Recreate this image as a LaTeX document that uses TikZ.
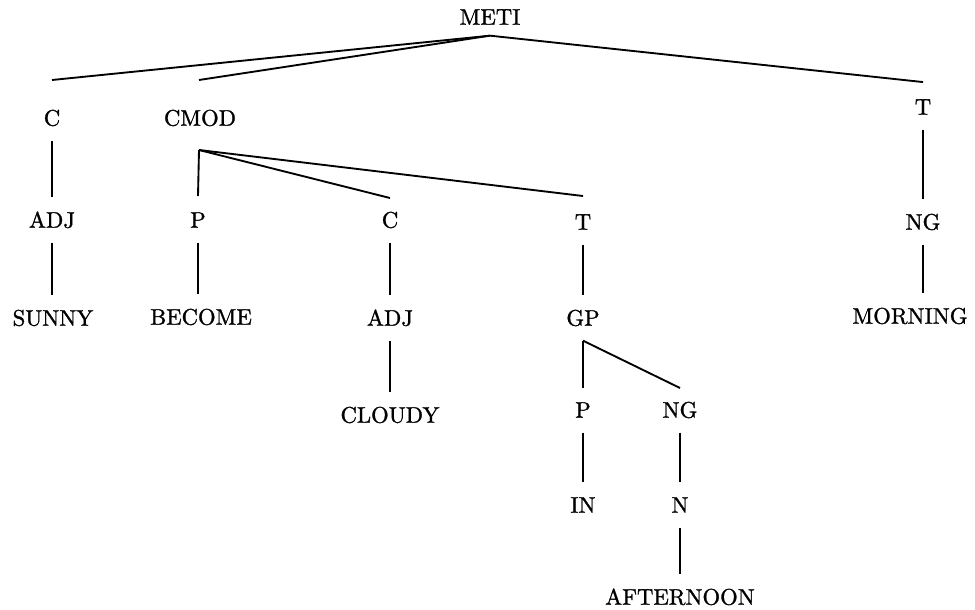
\documentclass[tikz,border=0pt]{standalone}
\usepackage{fontspec}
\newfontfamily\treefont[Extension=.otf, FakeBold=1.2]{lmroman10-regular}
\usetikzlibrary{positioning}
\tikzset{
  x=0.75pt, y=-0.75pt,
  lbl/.style={font=\treefont\fontsize{17}{19}\selectfont, text height=11.6pt,
    text depth=0pt, inner xsep=2pt, inner ysep=8pt},
  every edge/.style={draw, line width=1.4pt, shorten <=3pt, shorten >=3pt},
  branch/.style={shorten <=0pt, shorten >=0pt}
}

\begin{document}
\begin{tikzpicture}
  \useasboundingbox (0,0) rectangle (975,610);
  \node [lbl] (meti)    at (490,17)  {METI};
  \node [lbl] (c)       at (52,118)  {C};
  \node [lbl] (cmod)    at (200,118) {CMOD};
  \node [lbl] (t)       at (923,107) {T};
  \node [lbl] (adj)     at (52,220)  {ADJ};
  \node [lbl] (sunny)   at (53,318)  {SUNNY};
  \node [lbl] (p)       at (198,220) {P};
  \node [lbl] (become)  at (201,317) {BECOME};
  \node [lbl] (cc)      at (390,220) {C};
  \node [lbl] (cadj)    at (390,318) {ADJ};
  \node [lbl] (cloudy)  at (390,415) {CLOUDY};
  \node [lbl] (tt)      at (583,222) {T};
  \node [lbl] (gp)      at (583,318) {GP};
  \node [lbl] (gpp)     at (583,410) {P};
  \node [lbl] (in)      at (583,505) {IN};
  \node [lbl] (gpng)    at (680,410) {NG};
  \node [lbl] (n)       at (680,505) {N};
  \node [lbl] (aftn)    at (680,597) {AFTERNOON};
  \node [lbl] (ng)      at (923,222) {NG};
  \node [lbl] (morning) at (910,316) {MORNING};
  \path
    (meti.south) edge [branch] ([yshift=14.5pt]c.north)
    (meti.south) edge [branch] ([xshift=-0.75pt, yshift=14.5pt]cmod.north)
    (meti.south) edge [branch] ([yshift=4.7pt]t.north)
    (c) edge (adj)
    (adj) edge (sunny.north -| adj)
    ([xshift=-0.75pt, yshift=-10pt]cmod.south) edge [branch] ([yshift=4pt]p.north)
    ([xshift=-0.75pt, yshift=-10pt]cmod.south) edge [branch] ([yshift=2.5pt]cc.north)
    ([xshift=-0.75pt, yshift=-10pt]cmod.south) edge [branch] ([yshift=5.5pt]tt.north)
    (p) edge (become.north -| p)
    (cc) edge (cadj)
    (cadj) edge (cloudy)
    (tt) edge (gp)
    ([yshift=-3pt]gp.south) edge [branch] ([yshift=2.5pt]gpp.north)
    ([yshift=-3pt]gp.south) edge [branch] ([yshift=2.5pt]gpng.north)
    (gpp) edge (in)
    (gpng) edge (n)
    (n) edge (aftn)
    (t) edge (ng)
    (ng) edge (morning.north -| ng);
\end{tikzpicture}
\end{document}
